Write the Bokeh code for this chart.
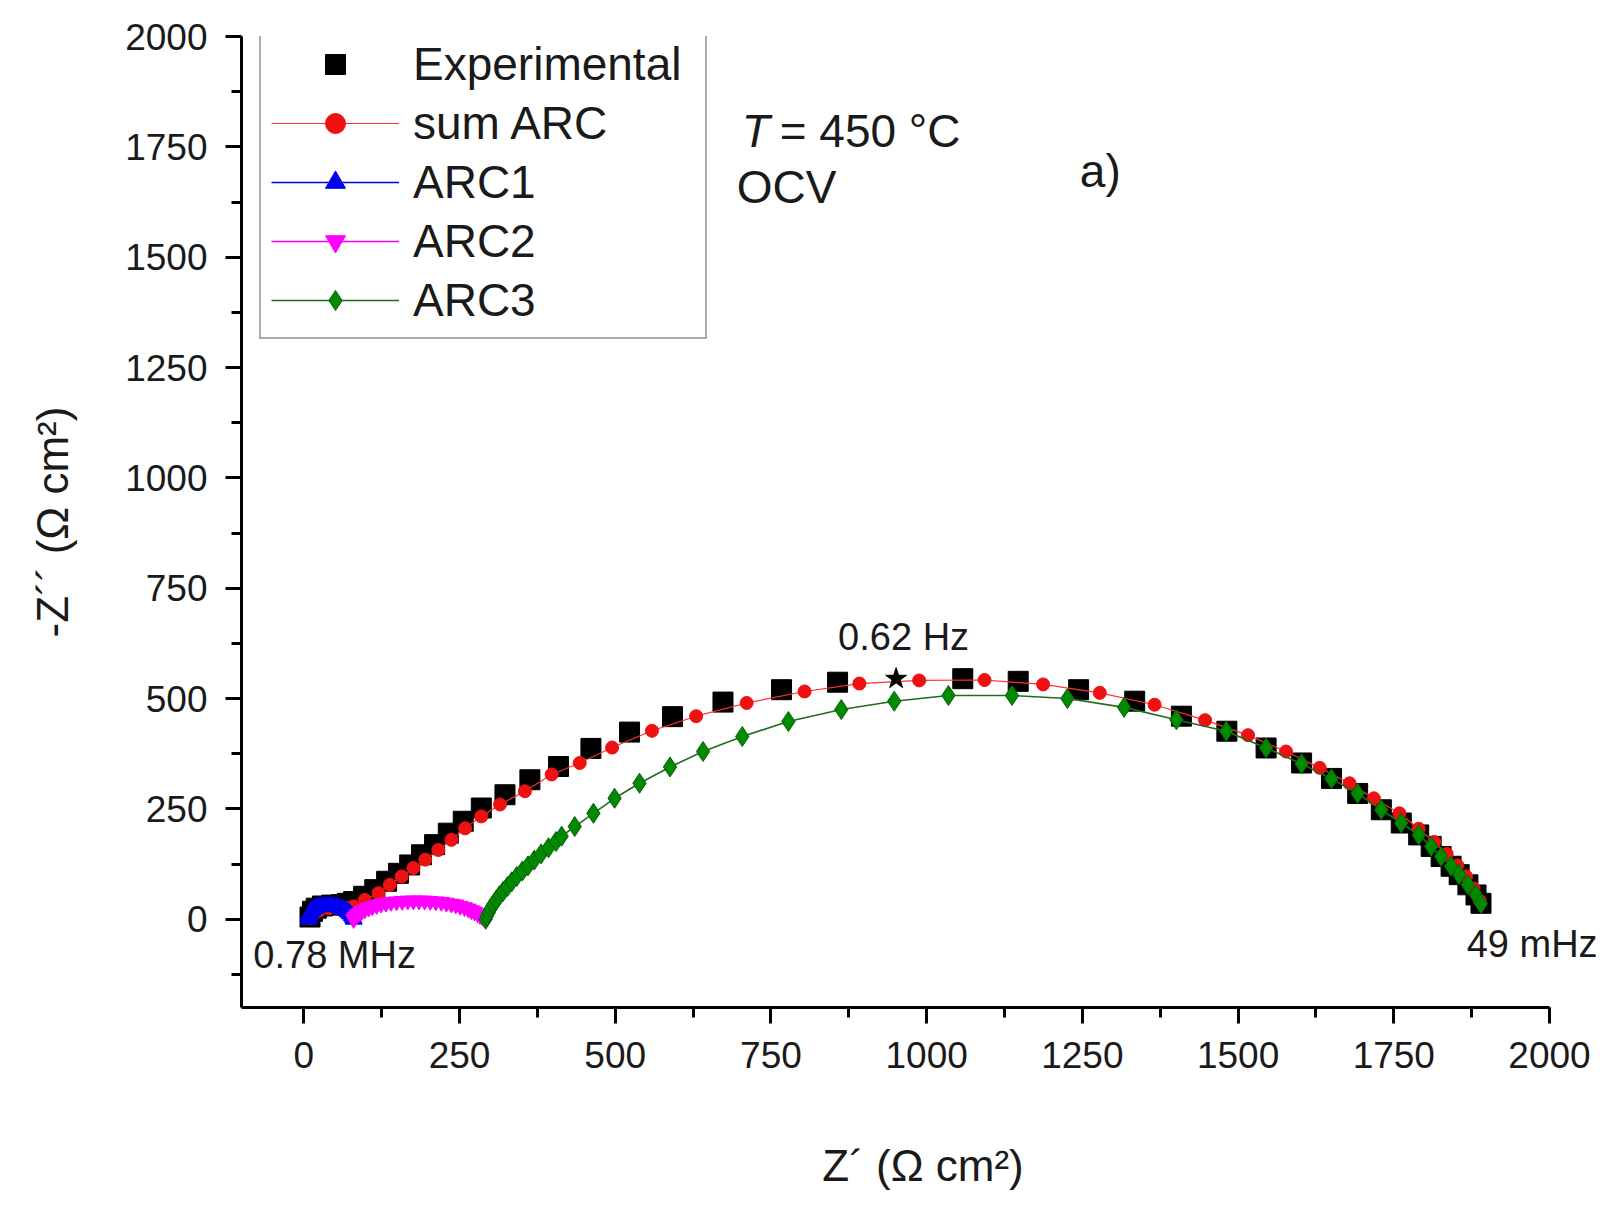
from bokeh.plotting import figure
from bokeh.models import Range1d, SingleIntervalTicker, Legend, LegendItem, Label
from bokeh.embed import file_html
from bokeh.resources import INLINE

# ---------------- data (Z' , -Z'' in Ohm cm^2) ----------------
exp_x = [10, 14, 20, 30, 45, 60, 70, 80, 96, 114, 133, 152, 170, 189, 210, 232, 256, 285, 323, 363,
         409, 461, 523, 592, 673, 767, 857, 1058, 1147, 1244, 1334, 1409, 1482, 1545, 1602, 1650,
         1692, 1730, 1762, 1790, 1810, 1826, 1842, 1855, 1869, 1882, 1890]
exp_y = [5, 18, 25, 30, 32, 33, 36, 40, 52, 67, 86, 104, 123, 146, 169, 195, 222, 252, 282, 316,
         346, 387, 424, 459, 492, 520, 537, 545, 539, 520, 494, 460, 426, 388, 354, 319,
         285, 248, 218, 191, 165, 142, 120, 101, 78, 55, 36]

sum_x = [10, 15, 25, 40, 55, 68, 80, 98, 120, 138, 157, 176, 195, 216, 237, 259, 285, 315, 355, 398,
         443, 495, 559, 630, 711, 804, 892, 988, 1093, 1187, 1278, 1366, 1447, 1516, 1577, 1631,
         1679, 1718, 1759, 1790, 1815, 1835, 1852, 1866, 1878, 1888]
sum_y = [2, 10, 20, 25, 25, 26, 29, 44, 59, 78, 97, 116, 135, 157, 180, 206, 233, 260, 290, 328,
         354, 389, 427, 460, 490, 516, 534, 541, 542, 532, 513, 486, 451, 417, 380, 343,
         308, 274, 240, 205, 175, 148, 122, 97, 70, 42]

arc1_x = [8, 8, 9, 10, 12, 14, 17, 20, 24, 28, 33, 38, 43, 48, 53, 58, 63, 67, 71, 74, 77, 79, 80]
arc1_y = [0, 5, 10, 14, 18, 21, 24, 26, 28, 29, 30, 30, 30, 29, 28, 26, 23, 20, 16, 12, 8, 4, 0]

arc2_x = [80, 82, 85, 89, 93, 98, 104, 110, 117, 124, 132, 140, 149, 158, 167, 176, 185, 194, 203,
          212, 221, 229, 237, 244, 251, 258, 264, 269, 274, 279, 283, 287, 290, 292]
arc2_y = [0, 5, 10, 14, 18, 22, 26, 29, 32, 35, 37, 39, 40, 41, 42, 42, 42, 42, 41,
          40, 39, 37, 35, 33, 30, 27, 24, 20, 17, 13, 9, 6, 3, 0]

arc3_x = [292, 294, 297, 300, 304, 309, 314, 320, 327, 334, 342, 351, 360, 370, 381, 393, 405, 414,
          435, 465, 499, 539, 588, 641, 704, 778, 863, 948, 1035, 1137, 1226, 1317, 1401, 1481,
          1545, 1602, 1650, 1692, 1730, 1762, 1790, 1810, 1826, 1842, 1855, 1869, 1882, 1890]
arc3_y = [0, 7, 15, 24, 33, 43, 53, 63, 74, 85, 97, 109, 121, 134, 148, 162, 176, 188,
          210, 240, 274, 308, 345, 380, 414, 448, 475, 494, 507, 507, 500, 480, 452, 426,
          388, 352, 318, 285, 248, 218, 191, 165, 142, 120, 101, 78, 55, 35]

star_x = [951]
star_y = [545]

FONT = "Liberation Sans"

# frame extends to the right page edge so the "49 mHz" note is not clipped;
# the axis itself is bounded to end at 2000
p = figure(frame_width=1363, frame_height=971,
           x_range=Range1d(-100, 2088.3), y_range=Range1d(-200, 2000),
           output_backend="svg", toolbar_location=None,
           min_border_left=241, min_border_right=2, min_border_top=36, min_border_bottom=202,
           background_fill_color="white", border_fill_color="white")
p.outline_line_color = None
p.xgrid.visible = False
p.ygrid.visible = False

for ax, lab in ((p.xaxis[0], "Z\u00b4 (\u03a9 cm\u00b2)"), (p.yaxis[0], "-Z\u00b4\u00b4 (\u03a9 cm\u00b2)")):
    ax.ticker = SingleIntervalTicker(interval=250, num_minor_ticks=2)
    ax.axis_line_width = 3
    ax.axis_line_color = "black"
    ax.major_tick_line_width = 3
    ax.minor_tick_line_width = 3
    ax.major_tick_line_color = "black"
    ax.minor_tick_line_color = "black"
    ax.major_tick_out = 16
    ax.major_tick_in = 0
    ax.minor_tick_out = 10
    ax.minor_tick_in = 0
    ax.major_label_text_font = FONT
    ax.major_label_text_font_size = "37px"
    ax.major_label_text_color = "#1a1a1a"
    ax.major_label_standoff = 18
    ax.axis_label = lab
    ax.axis_label_text_font = FONT
    ax.axis_label_text_font_size = "44px"
    ax.axis_label_text_font_style = "normal"
    ax.axis_label_text_color = "#1a1a1a"
p.xaxis[0].bounds = (-100, 2000)
p.xaxis[0].axis_label_standoff = 70
p.yaxis[0].axis_label_standoff = 45

# experimental
r_exp = p.scatter(exp_x, exp_y, marker="square", size=20, fill_color="black", line_color="black")

# sum ARC
l_sum = p.line(sum_x, sum_y, line_color="#ff3030", line_width=1.2)
s_sum = p.scatter(sum_x, sum_y, marker="circle", size=13, fill_color="#ee1111", line_color="#ee1111")

# ARC1
l_a1 = p.line(arc1_x, arc1_y, line_color="#0000dd", line_width=1.5)
s_a1 = p.scatter(arc1_x, arc1_y, marker="triangle", size=17, fill_color="#0000ee", line_color="#0000ee")

# ARC2
l_a2 = p.line(arc2_x, arc2_y, line_color="#ee00ee", line_width=1.5)
s_a2 = p.scatter(arc2_x, arc2_y, marker="inverted_triangle", size=16, fill_color="#ff00ff", line_color="#ff00ff")

# ARC3
l_a3 = p.line(arc3_x, arc3_y, line_color="#1d6e1d", line_width=1.6)
s_a3 = p.scatter(arc3_x, arc3_y, marker="diamond", size=20, fill_color="#008a00", line_color="#0b5d0b")

# marked frequency
p.scatter(star_x, star_y, marker="star", size=22, fill_color="black", line_color="black")

legend = Legend(items=[
    LegendItem(label="Experimental", renderers=[r_exp]),
    LegendItem(label="sum ARC", renderers=[l_sum, s_sum]),
    LegendItem(label="ARC1", renderers=[l_a1, s_a1]),
    LegendItem(label="ARC2", renderers=[l_a2, s_a2]),
    LegendItem(label="ARC3", renderers=[l_a3, s_a3]),
], location=(18, 668))
legend.label_text_font = FONT
legend.label_text_font_size = "46px"
legend.label_text_color = "#1a1a1a"
legend.label_standoff = 14
legend.label_width = 282
legend.label_height = 50
legend.glyph_width = 128
legend.glyph_height = 50
legend.spacing = 5
legend.padding = 10
legend.margin = 0
legend.border_line_color = "#555555"
legend.border_line_width = 2
legend.background_fill_color = "white"
legend.background_fill_alpha = 1.0
p.add_layout(legend)

def lab(x, y, text, size="38px", style="normal", align="left"):
    p.add_layout(Label(x=x, y=y, text=text, text_font=FONT, text_font_size=size,
                       text_font_style=style, text_baseline="middle", text_align=align,
                       text_color="#1a1a1a"))

lab(703, 1787, "T", size="46px", style="italic")
lab(764, 1787, "= 450 \u00b0C", size="46px")
lab(695, 1658, "OCV", size="46px")
lab(1246, 1696, "a)", size="46px")
lab(963, 639, "0.62 Hz", align="center")
lab(-81, -82, "0.78 MHz")
lab(1867, -56, "49 mHz")

open("out.html", "w").write(file_html(p, INLINE))
